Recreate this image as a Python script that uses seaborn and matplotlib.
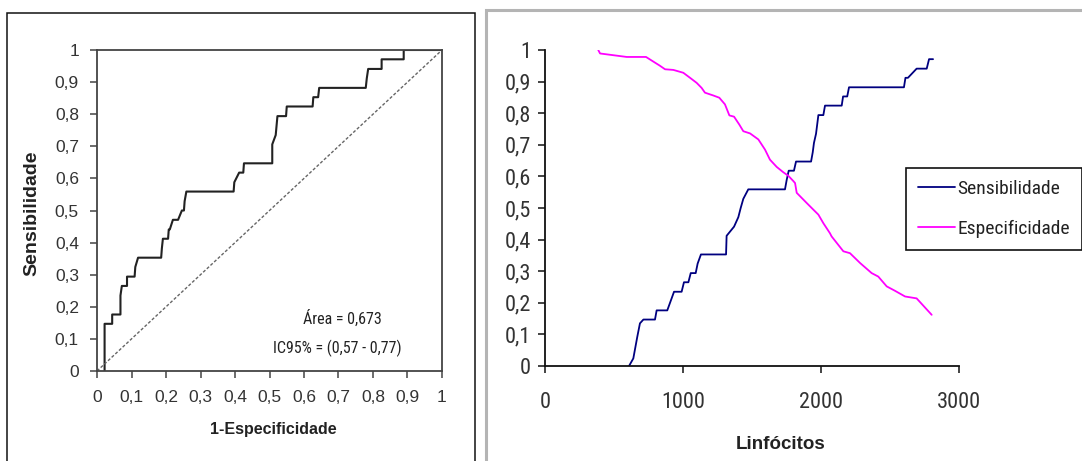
import numpy as np
import pandas as pd
import matplotlib
matplotlib.use("Agg")
import matplotlib.pyplot as plt
from matplotlib import font_manager as fm
from matplotlib.patches import Rectangle
from matplotlib.ticker import FixedLocator, FuncFormatter
import seaborn as sns

# ---------------- data ----------------
# ROC curve (1-Especificidade, Sensibilidade) step vertices
roc_fpr = [0.022, 0.022, 0.044, 0.044, 0.068, 0.068, 0.072, 0.087, 0.087, 0.109,
           0.111, 0.119, 0.186, 0.188, 0.191, 0.206, 0.208, 0.211, 0.220, 0.235,
           0.246, 0.252, 0.254, 0.259, 0.396, 0.398, 0.412, 0.424, 0.426, 0.508,
           0.508, 0.518, 0.523, 0.548, 0.550, 0.625, 0.627, 0.641, 0.644, 0.779,
           0.782, 0.786, 0.825, 0.825, 0.889, 0.889, 1.0]
roc_tpr = [0.0, 0.147, 0.147, 0.176, 0.176, 0.235, 0.265, 0.265, 0.294, 0.294,
           0.324, 0.353, 0.353, 0.382, 0.412, 0.412, 0.441, 0.441, 0.471, 0.471,
           0.500, 0.500, 0.529, 0.559, 0.559, 0.588, 0.618, 0.618, 0.647, 0.647,
           0.706, 0.735, 0.794, 0.794, 0.824, 0.824, 0.853, 0.853, 0.882, 0.882,
           0.912, 0.941, 0.941, 0.971, 0.971, 1.0, 1.0]
diag = [0.0, 1.0]

# Sensibilidade vs Linfocitos
sens_x = [609, 640, 669, 688, 713, 797, 809, 886, 906, 935, 990, 1007, 1039, 1056,
          1092, 1106, 1130, 1312, 1316, 1370, 1401, 1418, 1437, 1473, 1739, 1751,
          1766, 1804, 1819, 1928, 1940, 1949, 1964, 1981, 2017, 2029, 2150, 2160,
          2190, 2203, 2601, 2612, 2630, 2693, 2766, 2783, 2812]
sens_y = [0.0, 0.024, 0.093, 0.135, 0.147, 0.147, 0.176, 0.176, 0.2, 0.235, 0.235,
          0.265, 0.265, 0.294, 0.294, 0.324, 0.353, 0.353, 0.412, 0.441, 0.471,
          0.500, 0.529, 0.559, 0.559, 0.588, 0.618, 0.618, 0.647, 0.647, 0.676,
          0.706, 0.735, 0.794, 0.794, 0.824, 0.824, 0.853, 0.853, 0.882, 0.882,
          0.912, 0.912, 0.941, 0.941, 0.971, 0.971]

# Especificidade vs Linfocitos
spec_x = [386, 399, 592, 732, 797, 830, 870, 930, 1002, 1051, 1099, 1135, 1159,
          1220, 1263, 1304, 1336, 1370, 1408, 1437, 1486, 1546, 1594, 1630, 1679,
          1727, 1763, 1800, 1812, 1824, 1896, 1944, 1981, 2017, 2065, 2077, 2162,
          2210, 2283, 2367, 2415, 2476, 2536, 2609, 2693, 2802]
spec_y = [1.0, 0.989, 0.978, 0.978, 0.960, 0.951, 0.939, 0.937, 0.928, 0.912,
          0.896, 0.880, 0.865, 0.856, 0.849, 0.828, 0.793, 0.789, 0.764, 0.743,
          0.736, 0.717, 0.685, 0.653, 0.630, 0.613, 0.602, 0.585, 0.579, 0.548,
          0.516, 0.495, 0.479, 0.452, 0.420, 0.410, 0.363, 0.357, 0.326, 0.294,
          0.283, 0.252, 0.238, 0.220, 0.214, 0.162]

prob_ticks = [0, 0.1, 0.2, 0.3, 0.4, 0.5, 0.6, 0.7, 0.8, 0.9, 1]
linf_ticks = [0, 1000, 2000, 3000]

# ---------------- style ----------------
sns.set_style("white")
ttf = fm.fontManager.ttflist
names = {f.name for f in ttf}
REG = "Liberation Sans" if "Liberation Sans" in names else "DejaVu Sans"

NARROW, NSTRETCH, NF = REG, "normal", 0.8
for cand in ["Liberation Sans Narrow", "Arial Narrow", "Roboto Condensed",
             "Noto Sans Condensed", "DejaVu Sans Condensed"]:
    if cand in names:
        NARROW, NSTRETCH, NF = cand, "normal", 1.0
        break
else:
    for fam in ["Roboto", "Noto Sans", "DejaVu Sans"]:
        if any(f.name == fam and f.style == "normal" and str(f.stretch) in
               ("condensed", "semi-condensed") for f in ttf):
            NARROW, NSTRETCH, NF = fam, "condensed", 0.95
            break

plt.rcParams["font.family"] = [REG, "DejaVu Sans"]
NKW = dict(family=[NARROW, REG], stretch=NSTRETCH)

W, H = 1082, 461
fig = plt.figure(figsize=(W / 100, H / 100), dpi=100)
fig.patch.set_facecolor("white")


def fx(px):
    return px / W


def fy(py):
    return 1 - py / H


# panel borders
fig.add_artist(Rectangle((fx(7), -0.05), fx(468), fy(13) + 0.05,
                         transform=fig.transFigure, fill=False,
                         edgecolor="#111111", linewidth=1.1, zorder=0))
fig.add_artist(Rectangle((fx(486), -0.05), 0.6, fy(10) + 0.05,
                         transform=fig.transFigure, fill=False,
                         edgecolor="#b4b4b4", linewidth=2.2, zorder=0))

comma = FuncFormatter(lambda v, p: ("%g" % v).replace(".", ","))

# ---------------- left: ROC ----------------
ax1 = fig.add_axes([fx(97), fy(371), fx(345), (371 - 50) / H])
roc_df = pd.DataFrame({"fpr": roc_fpr, "tpr": roc_tpr})
sns.lineplot(data=roc_df, x="fpr", y="tpr", ax=ax1, sort=False, estimator=None,
             color="#222222", linewidth=1.5)
sns.lineplot(x=diag, y=diag, ax=ax1, sort=False, estimator=None,
             color="#666666", linewidth=1.0, linestyle=(0, (2.2, 1.4)))
ax1.set_xlim(0, 1)
ax1.set_ylim(0, 1)
ax1.xaxis.set_major_locator(FixedLocator(prob_ticks))
ax1.yaxis.set_major_locator(FixedLocator(prob_ticks))
ax1.xaxis.set_major_formatter(comma)
ax1.yaxis.set_major_formatter(comma)
for s in ax1.spines.values():
    s.set_color("#444444")
    s.set_linewidth(1.3)
ax1.tick_params(axis="x", direction="out", length=5, width=1.1, color="#444444",
                pad=9, labelsize=12.5, labelcolor="#333333", bottom=True)
ax1.tick_params(axis="y", direction="out", length=5, width=1.1, color="#444444",
                pad=8, labelsize=12.5, labelcolor="#333333", left=True)
ax1.set_xlabel("1-Especificidade", fontsize=11.5, fontweight="bold", color="#222222")
ax1.set_ylabel("Sensibilidade", fontsize=14, fontweight="bold", color="#222222")
ax1.xaxis.set_label_coords(0.51, -0.16)
ax1.yaxis.set_label_coords(-0.165, 0.49)
ax1.text(0.71, 0.165, "Área = 0,673", ha="center", va="center",
         fontsize=11.5 * NF, color="#222222", **NKW)
ax1.text(0.696, 0.072, "IC95% = (0,57 - 0,77)", ha="center", va="center",
         fontsize=11.5 * NF, color="#222222", **NKW)

# ---------------- right: curves vs Linfocitos ----------------
ax2 = fig.add_axes([fx(545), fy(366), fx(414), (366 - 50) / H])
sens_df = pd.DataFrame({"x": sens_x, "y": sens_y})
spec_df = pd.DataFrame({"x": spec_x, "y": spec_y})
sns.lineplot(data=sens_df, x="x", y="y", ax=ax2, sort=False, estimator=None,
             color="#000080", linewidth=1.3, label="Sensibilidade")
sns.lineplot(data=spec_df, x="x", y="y", ax=ax2, sort=False, estimator=None,
             color="#FF00FF", linewidth=1.3, label="Especificidade")
ax2.set_xlim(0, 3000)
ax2.set_ylim(0, 1)
ax2.xaxis.set_major_locator(FixedLocator(linf_ticks))
ax2.yaxis.set_major_locator(FixedLocator(prob_ticks))
ax2.xaxis.set_major_formatter(FuncFormatter(lambda v, p: "%d" % v))
ax2.yaxis.set_major_formatter(comma)
ax2.spines["top"].set_visible(False)
ax2.spines["right"].set_visible(False)
for k in ("left", "bottom"):
    ax2.spines[k].set_color("#111111")
    ax2.spines[k].set_linewidth(1.3)
ax2.tick_params(axis="x", direction="out", length=5, width=1.1, color="#111111",
                pad=14, labelsize=16 * NF, labelcolor="#333333", bottom=True)
ax2.tick_params(axis="y", direction="out", length=5, width=1.1, color="#111111",
                pad=5, labelsize=16 * NF, labelcolor="#333333", left=True)
for lab in ax2.get_xticklabels() + ax2.get_yticklabels():
    lab.set_family([NARROW, REG])
    lab.set_stretch(NSTRETCH)
ax2.set_xlabel("Linfócitos", fontsize=13.5, fontweight="bold", color="#222222")
ax2.set_ylabel("")
ax2.xaxis.set_label_coords(0.57, -0.22)

LFS = 14 * NF
leg = ax2.legend(loc="upper left", bbox_to_anchor=(fx(906), fy(168)),
                 bbox_transform=fig.transFigure, borderaxespad=0, frameon=True,
                 fancybox=False, framealpha=1, edgecolor="#111111",
                 prop=fm.FontProperties(family=[NARROW, REG], stretch=NSTRETCH,
                                        size=LFS),
                 handlelength=1.9, handletextpad=0.15, borderpad=0.6,
                 labelspacing=1.15)
leg.get_frame().set_linewidth(1.2)
for t in leg.get_texts():
    t.set_color("#222222")

fig.savefig("out.png", dpi=100, facecolor="white")
